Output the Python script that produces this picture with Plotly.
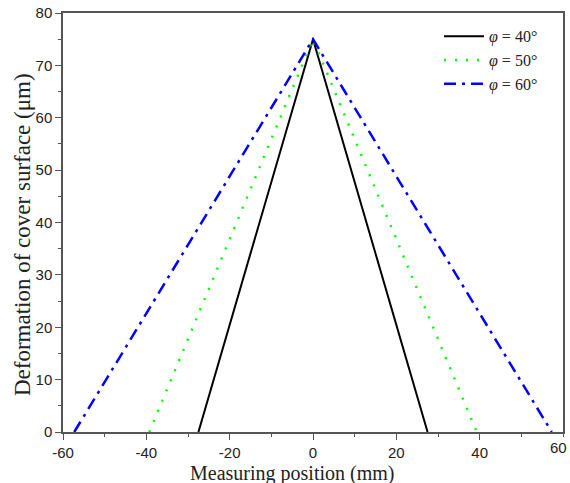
import plotly.graph_objects as go

peak = 75
x40 = [-27.5, 0, 27.5]
y40 = [0, peak, 0]
x50 = [-39.3, 0, 39.3]
y50 = [0, peak, 0]
x60 = [-57.3, 0, 57.3]
y60 = [0, peak, 0]
names = ["<i>φ</i> = 40°", "<i>φ</i> = 50°", "<i>φ</i> = 60°"]
xticks = [-60, -40, -20, 0, 20, 40, 60]
xticklabels = ["-60", "-40", "-20", "0", "20", "40", "60"]
yticks = [0, 10, 20, 30, 40, 50, 60, 70, 80]
xtitle = "Measuring position (mm)"
ytitle = "Deformation of cover surface (μm)"

fig = go.Figure()
fig.add_trace(go.Scatter(x=x40, y=y40, mode="lines", name=names[0],
                         line=dict(color="black", width=2, dash="solid")))
fig.add_trace(go.Scatter(x=x50, y=y50, mode="lines", name=names[1],
                         line=dict(color="#00ff00", width=2.5, dash="2px,9px")))
fig.add_trace(go.Scatter(x=x60, y=y60, mode="lines", name=names[2],
                         line=dict(color="#0000ff", width=2.5, dash="12px,6px,3px,6px")))

tick_font = dict(family="Liberation Sans, Arial", size=15, color="#222")
axis_common = dict(
    showline=True, linecolor="#555", linewidth=1.5, mirror=True,
    ticks="outside", ticklen=6, tickcolor="#555", tickwidth=1.2,
    showgrid=False, zeroline=False, automargin=False,
    tickfont=tick_font,
    minor=dict(ticks="outside", ticklen=3, tickcolor="#555", showgrid=False),
)
fig.update_xaxes(range=[-60, 60], tickvals=xticks[:-1], ticktext=xticklabels[:-1], minor_dtick=10,
                 **axis_common)
fig.update_yaxes(range=[0, 80], tickvals=yticks, minor_dtick=5,
                 **axis_common)
# last x tick label, kept inside the page
fig.add_annotation(text=xticklabels[-1], xref="x", yref="paper", x=xticks[-1], y=-0.012,
                   xanchor="right", yanchor="top", xshift=6, showarrow=False, font=tick_font)
title_font = dict(family="Liberation Serif, Times New Roman", color="#222")
fig.add_annotation(text=xtitle, xref="paper", yref="paper", x=0.458, y=-0.1,
                   xanchor="center", yanchor="middle", showarrow=False,
                   font=dict(size=20, **title_font))
fig.add_annotation(text=ytitle, xref="paper", yref="paper", x=-0.082, y=0.47,
                   xanchor="center", yanchor="middle", showarrow=False, textangle=-90,
                   font=dict(size=23, **title_font))
fig.update_layout(
    width=570, height=483,
    margin=dict(l=63, r=7, t=13, b=51),
    plot_bgcolor="white", paper_bgcolor="white",
    legend=dict(x=0.96, y=0.985, xanchor="right", yanchor="top",
                bgcolor="rgba(0,0,0,0)",
                font=dict(family="Liberation Serif, Times New Roman", size=16, color="#222"),
                itemwidth=40, tracegroupgap=0),
)
fig.write_html("out.html")
